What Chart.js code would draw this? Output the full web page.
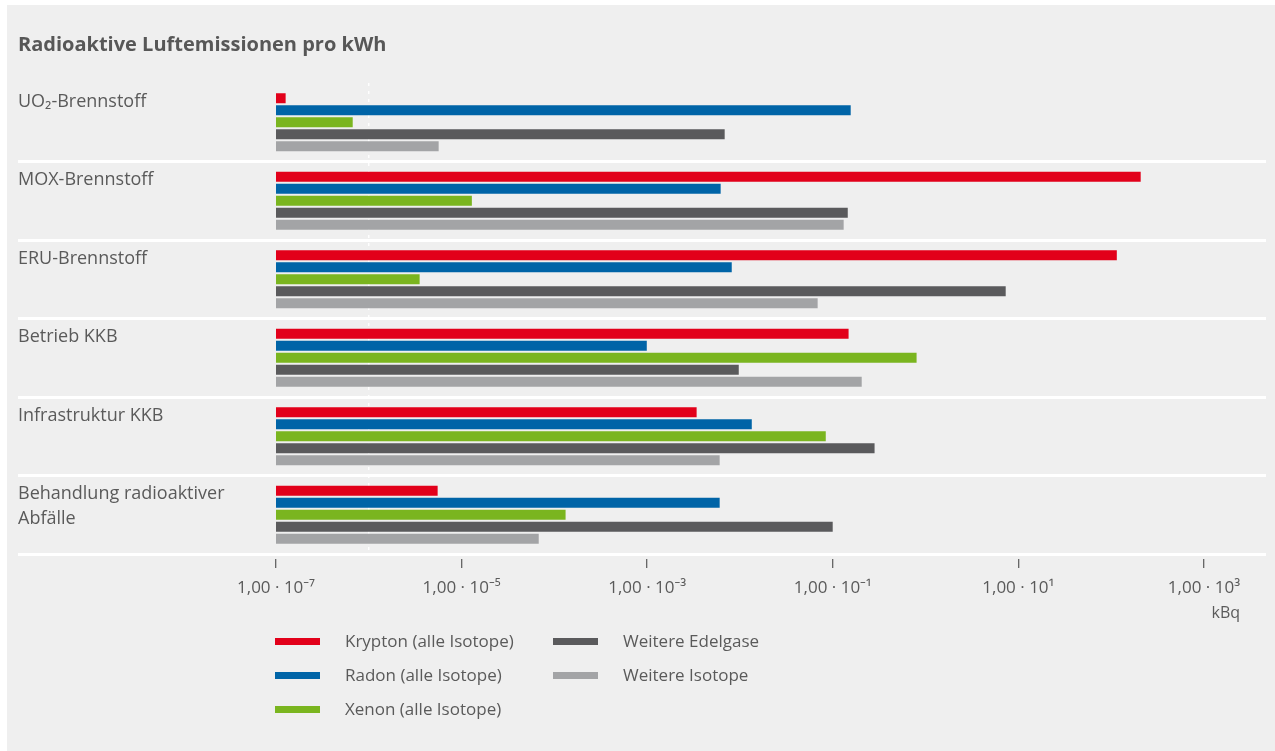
<!DOCTYPE html>
<html lang="de">
<head>
<meta charset="utf-8">
<title>Radioaktive Luftemissionen pro kWh</title>
<script src="https://cdn.jsdelivr.net/npm/chart.js@4/dist/chart.umd.min.js"></script>
<style>
  html, body { margin: 0; padding: 0; background: #ffffff; }
  body { width: 1275px; height: 751px; position: relative; overflow: hidden; font-family: "Open Sans", "Noto Sans", sans-serif; }
  .panel { position: absolute; left: 7px; top: 5px; right: 0; bottom: 0; background: #efefef; }
  .wrap { position: absolute; left: 0; top: 0; width: 1275px; height: 640px; }
  .legend { position: absolute; left: 0; top: 0; width: 1275px; height: 751px; pointer-events: none; }
  .legend .item { position: absolute; height: 34px; line-height: 34px; font-size: 17px; color: #5a5a5a; white-space: nowrap; }
  .legend .swatch { position: absolute; left: 0; top: 14px; width: 45px; height: 7px; }
  .legend .label { position: absolute; left: 70px; top: 0; }
</style>
</head>
<body>
<div class="panel"></div>
<div class="wrap"><canvas id="chart"></canvas></div>
<div class="legend" id="legend"></div>

<script>
// Luftemissionen je Quelle, Werte in kBq (logarithmische Achse)
var categories = [
  "UO\u2082-Brennstoff",
  "MOX-Brennstoff",
  "ERU-Brennstoff",
  "Betrieb KKB",
  "Infrastruktur KKB",
  ["Behandlung radioaktiver", "Abf\u00e4lle"]
];

var krypton  = [1.27e-7, 208,     115,     0.148,   3.41e-3, 5.52e-6];
var radon    = [0.156,   6.19e-3, 8.15e-3, 9.9e-4,  0.0134,  6.04e-3];
var xenon    = [6.71e-7, 1.29e-5, 3.53e-6, 0.80,    0.084,   1.32e-4];
var edelgase = [6.84e-3, 0.145,   7.3,     9.7e-3,  0.282,   0.0998];
var isotope  = [5.66e-6, 0.131,   0.0687,  0.205,   6.04e-3, 6.78e-5];

var seriesNames = [
  "Krypton (alle Isotope)",
  "Radon (alle Isotope)",
  "Xenon (alle Isotope)",
  "Weitere Edelgase",
  "Weitere Isotope"
];
var seriesColors = ["#e2001a", "#0064a7", "#7ab51f", "#5a5a5c", "#a3a4a6"];

var tickExponents = [-7, -6, -5, -4, -3, -2, -1, 0, 1, 2, 3];
var xMin = 1e-7;
var xMax = 4.66e3;

var TEXT = "#5a5a5a";
var FONT = '"Open Sans", "Noto Sans", "DejaVu Sans", sans-serif';
Chart.defaults.font.family = FONT;
Chart.defaults.color = TEXT;

var SUP = { "-": "\u207b", "0": "\u2070", "1": "\u00b9", "2": "\u00b2", "3": "\u00b3",
            "4": "\u2074", "5": "\u2075", "6": "\u2076", "7": "\u2077", "8": "\u2078", "9": "\u2079" };

function sciLabel(exp) {
  var s = String(exp).split("").map(function (c) { return SUP[c]; }).join("");
  return "1,00 \u00b7 10" + s;
}

function expOf(v) { return Math.round(Math.log10(v)); }

var TICK_SIZE = 17;

// unit text under the last tick label
var unitLabel = {
  id: "unitLabel",
  afterDraw: function (chart) {
    var x = chart.scales.x;
    var ctx = chart.ctx;
    ctx.save();
    ctx.font = TICK_SIZE + "px " + FONT;
    var w = ctx.measureText(sciLabel(3)).width;
    ctx.font = "16px " + FONT;
    ctx.fillStyle = TEXT;
    ctx.textAlign = "right";
    ctx.textBaseline = "middle";
    ctx.fillText("kBq", x.getPixelForValue(1e3) + w / 2, x.top + 59);
    ctx.restore();
  }
};

var data = [krypton, radon, xenon, edelgase, isotope];

var chart = new Chart(document.getElementById("chart"), {
  type: "bar",
  data: {
    labels: categories,
    datasets: data.map(function (d, i) {
      return {
        label: seriesNames[i],
        data: d,
        backgroundColor: seriesColors[i],
        borderWidth: 0,
        categoryPercentage: 60 / 78.5,
        barPercentage: 10 / 12
      };
    })
  },
  options: {
    indexAxis: "y",
    responsive: true,
    maintainAspectRatio: false,
    animation: false,
    layout: { padding: { left: 18, right: 9, top: 0, bottom: 16 } },
    plugins: {
      legend: { display: false },
      tooltip: { enabled: true },
      title: {
        display: true,
        align: "start",
        text: "Radioaktive Luftemissionen pro kWh",
        color: "#575757",
        font: { size: 20, weight: "bold" },
        padding: { top: 33, bottom: 26 }
      }
    },
    scales: {
      x: {
        type: "logarithmic",
        min: xMin,
        max: xMax,
        afterBuildTicks: function (scale) {
          scale.ticks = tickExponents.map(function (e) { return { value: Math.pow(10, e) }; });
        },
        afterFit: function (scale) { scale.height = 70; },
        border: { display: false, dash: [3, 5] },
        grid: {
          color: function (c) {
            return c.tick && expOf(c.tick.value) === -6 ? "rgba(255,255,255,0.9)" : "rgba(0,0,0,0)";
          },
          lineWidth: 1.5,
          drawTicks: true,
          tickLength: 15,
          tickWidth: 1,
          tickBorderDash: [0, 5, 9, 10],
          tickColor: function (c) {
            return c.tick && Math.abs(expOf(c.tick.value)) % 2 === 1 ? "#3a3a3a" : "rgba(0,0,0,0)";
          }
        },
        ticks: {
          autoSkip: false,
          maxRotation: 0,
          padding: 9,
          color: TEXT,
          font: { size: TICK_SIZE },
          callback: function (v) {
            var e = expOf(v);
            return Math.abs(e) % 2 === 1 ? sciLabel(e) : "";
          }
        }
      },
      y: {
        afterFit: function (scale) { scale.width = 258; },
        border: { display: false },
        grid: {
          color: function (c) { return c.index === 0 ? "rgba(0,0,0,0)" : "#ffffff"; },
          tickColor: function (c) { return c.index === 0 ? "rgba(0,0,0,0)" : "#ffffff"; },
          lineWidth: 3,
          tickWidth: 3,
          tickLength: 258
        },
        ticks: {
          crossAlign: "far",
          labelOffset: -8,
          color: TEXT,
          font: { size: 18, lineHeight: 25 / 18 },
          callback: function (v) {
            var l = this.getLabelForValue(v);
            return Array.isArray(l) ? l : [l, ""];
          }
        }
      }
    }
  },
  plugins: [unitLabel]
});

// two-column legend below the chart
(function () {
  var box = document.getElementById("legend");
  var cols = [[0, 1, 2], [3, 4]];
  var colX = [275, 553];
  var rowY = 624;
  cols.forEach(function (col, ci) {
    col.forEach(function (di, ri) {
      var ds = chart.data.datasets[di];
      var item = document.createElement("div");
      item.className = "item";
      item.style.left = colX[ci] + "px";
      item.style.top = (rowY + ri * 34) + "px";
      var sw = document.createElement("span");
      sw.className = "swatch";
      sw.style.background = ds.backgroundColor;
      var tx = document.createElement("span");
      tx.className = "label";
      tx.textContent = ds.label;
      item.appendChild(sw);
      item.appendChild(tx);
      box.appendChild(item);
    });
  });
})();
</script>
</body>
</html>
